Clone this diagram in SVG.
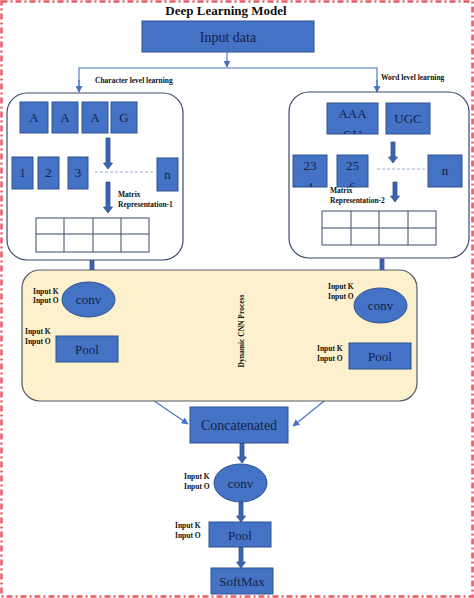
<svg xmlns="http://www.w3.org/2000/svg" width="474" height="598" viewBox="0 0 474 598">
<style>
.bx{fill:#4472c4;stroke:#2f528f;stroke-width:1}
.t{font-family:"Liberation Serif","Times New Roman",serif;fill:#14234a;text-anchor:middle}
.lb{font-family:"Liberation Serif","Times New Roman",serif;font-weight:bold;fill:#111;font-size:7.5px}
.ba{fill:#3a64b0;stroke:#2f528f;stroke-width:0.8}
.cn{fill:none;stroke:#4472c4;stroke-width:1.1}
.grid{fill:#fff;stroke:#3a4a6a;stroke-width:1}
.dash{stroke:#9aaed0;stroke-width:1;stroke-dasharray:3,2}
</style>
<defs>
<marker id="ah" viewBox="0 0 10 10" refX="9" refY="5" markerWidth="7" markerHeight="7" orient="auto" markerUnits="userSpaceOnUse">
<path d="M0,0 L10,5 L0,10 z" fill="#4472c4"/>
</marker>
<clipPath id="c1"><rect x="327" y="103" width="51" height="31"/></clipPath>
<clipPath id="c2"><rect x="293" y="155" width="34" height="32"/></clipPath>
<clipPath id="c3"><rect x="337" y="155" width="31" height="32"/></clipPath>
</defs>
<rect width="474" height="598" fill="#fff"/>
<rect x="1.5" y="1.5" width="471" height="595" fill="none" stroke="#ec5a66" stroke-width="2.5" stroke-dasharray="6,3,2,3"/>

<text x="226" y="15" class="t" style="font-weight:bold;font-size:13px;fill:#111">Deep Learning Model</text>

<g id="input">
<rect class="bx" x="142" y="21" width="172" height="31"/>
<text class="t" x="228" y="42" font-size="14">Input data</text>
</g>

<g id="connectors">
<line class="cn" x1="227" y1="52" x2="227" y2="67" marker-end="url(#ah)"/>
<polyline class="cn" points="79,92 79,68 377,68 377,92"/>
<line class="cn" x1="79" y1="80" x2="79" y2="92" marker-end="url(#ah)"/>
<line class="cn" x1="377" y1="80" x2="377" y2="92" marker-end="url(#ah)"/>
<line class="cn" x1="97" y1="362" x2="188" y2="424" marker-end="url(#ah)"/>
<line class="cn" x1="364" y1="369" x2="293" y2="426" marker-end="url(#ah)"/>
<polygon class="ba" points="90,258 94,258 94,276 96.5,276 92,282 87.5,276 90,276"/>
<polygon class="ba" points="86,317 90,317 90,330 92.5,330 88,336 83.5,330 86,330"/>
<polygon class="ba" points="380,259 384,259 384,275 386.5,275 382,281 377.5,275 380,275"/>
<polygon class="ba" points="380,323 384,323 384,337 386.5,337 382,343 377.5,337 380,337"/>
<polygon class="ba" points="240,443 244,443 244,457 246.5,457 242,463 237.5,457 240,457"/>
<polygon class="ba" points="239,502 243,502 243,516 245.5,516 241,522 236.5,516 239,516"/>
<polygon class="ba" points="239,547 243,547 243,562 245.5,562 241,568 236.5,562 239,562"/>
</g>

<text class="lb" x="95" y="83">Character level learning</text>
<text class="lb" x="381" y="80">Word level learning</text>

<g id="char-level">
<rect x="7" y="93" width="176" height="167" rx="20" fill="#fff" stroke="#3a4a6a" stroke-width="1.2"/>
<rect class="bx" x="20" y="102" width="28" height="31"/><text class="t" x="34" y="122" font-size="13">A</text>
<rect class="bx" x="52" y="102" width="26" height="31"/><text class="t" x="65" y="122" font-size="13">A</text>
<rect class="bx" x="82" y="102" width="26" height="31"/><text class="t" x="95" y="122" font-size="13">A</text>
<rect class="bx" x="111" y="102" width="26" height="31"/><text class="t" x="124" y="122" font-size="13">G</text>
<polygon class="ba" points="106,138 110,138 110,163 112.5,163 108,169 103.5,163 106,163"/>
<rect class="bx" x="12" y="157" width="21" height="32"/><text class="t" x="22.5" y="177" font-size="13">1</text>
<rect class="bx" x="38" y="157" width="21" height="32"/><text class="t" x="48.5" y="177" font-size="13">2</text>
<rect class="bx" x="68" y="157" width="20" height="32"/><text class="t" x="78" y="177" font-size="13">3</text>
<line class="dash" x1="95" y1="172" x2="155" y2="172"/>
<rect class="bx" x="157" y="158" width="21" height="33"/><text class="t" x="167.5" y="179" font-size="13">n</text>
<polygon class="ba" points="106,182 110,182 110,207 112.5,207 108,213 103.5,207 106,207"/>
<text class="lb" x="118" y="197">Matrix</text>
<text class="lb" x="118" y="207">Representation-1</text>
<rect class="grid" x="36" y="218" width="113" height="34"/>
<path d="M64,218V252M93,218V252M121,218V252M36,234H149" stroke="#3a4a6a" stroke-width="1"/>
</g>

<g id="word-level">
<rect x="289" y="92" width="180" height="166" rx="20" fill="#fff" stroke="#3a4a6a" stroke-width="1.2"/>
<rect class="bx" x="327" y="103" width="51" height="31"/>
<g clip-path="url(#c1)"><text class="t" x="352.5" y="118" font-size="13">AAA</text><text class="t" x="352.5" y="139" font-size="13">GU</text></g>
<rect class="bx" x="386" y="103" width="44" height="31"/><text class="t" x="408" y="123" font-size="13">UGC</text>
<polygon class="ba" points="391,142 395,142 395,157 397.5,157 393,163 388.5,157 391,157"/>
<rect class="bx" x="293" y="155" width="34" height="32"/>
<g clip-path="url(#c2)"><text class="t" x="310" y="170" font-size="13">23</text><text class="t" x="310" y="191" font-size="13">4</text></g>
<rect class="bx" x="337" y="155" width="31" height="32"/>
<g clip-path="url(#c3)"><text class="t" x="352.5" y="170" font-size="13">25</text><text class="t" x="352.5" y="191" font-size="13">6</text></g>
<line class="dash" x1="377" y1="169" x2="425" y2="169"/>
<rect class="bx" x="428" y="155" width="34" height="32"/><text class="t" x="445" y="175" font-size="13">n</text>
<polygon class="ba" points="393,182 397,182 397,196 399.5,196 395,202 390.5,196 393,196"/>
<text class="lb" x="330" y="193">Matrix</text>
<text class="lb" x="330" y="203">Representation-2</text>
<rect class="grid" x="322" y="211" width="114" height="34"/>
<path d="M351,211V245M379,211V245M408,211V245M322,228H436" stroke="#3a4a6a" stroke-width="1"/>
</g>

<g id="cnn-process">
<rect x="22" y="270" width="395" height="131" rx="18" fill="#fdf0cc" stroke="#555a66" stroke-width="1.2"/>
<text class="lb" transform="translate(244,331) rotate(-90)" text-anchor="middle" font-size="7">Dynamic CNN Process</text>
</g>

<g id="conv-left">
<ellipse cx="88.5" cy="299.5" rx="26.5" ry="17.5" class="bx"/>
<text class="t" x="88.5" y="304" font-size="13">conv</text>
<text class="lb" x="33" y="294">Input K</text><text class="lb" x="33" y="303">Input O</text>
</g>
<g id="pool-left">
<rect class="bx" x="56" y="336" width="62" height="26"/>
<text class="t" x="87" y="354" font-size="13">Pool</text>
<text class="lb" x="25" y="334">Input K</text><text class="lb" x="25" y="344">Input O</text>
</g>
<g id="conv-right">
<ellipse cx="380.5" cy="305.5" rx="26.5" ry="17.5" class="bx"/>
<text class="t" x="380.5" y="310" font-size="13">conv</text>
<text class="lb" x="328" y="289">Input K</text><text class="lb" x="328" y="299">Input O</text>
</g>
<g id="pool-right">
<rect class="bx" x="349" y="343" width="62" height="26"/>
<text class="t" x="380" y="361" font-size="13">Pool</text>
<text class="lb" x="317" y="351">Input K</text><text class="lb" x="317" y="361">Input O</text>
</g>

<g id="concat">
<rect class="bx" x="190" y="407" width="98" height="36"/>
<text class="t" x="239" y="430" font-size="14">Concatenated</text>
</g>
<g id="conv-bottom">
<ellipse cx="240.5" cy="483" rx="26.5" ry="19" class="bx"/>
<text class="t" x="240.5" y="488" font-size="13">conv</text>
<text class="lb" x="184" y="479">Input K</text><text class="lb" x="184" y="489">Input O</text>
</g>
<g id="pool-bottom">
<rect class="bx" x="209" y="522" width="62" height="25"/>
<text class="t" x="240" y="540" font-size="13">Pool</text>
<text class="lb" x="175" y="528">Input K</text><text class="lb" x="175" y="538">Input O</text>
</g>
<g id="softmax">
<rect class="bx" x="211" y="568" width="62" height="26"/>
<text class="t" x="242" y="586" font-size="13">SoftMax</text>
</g>
</svg>
